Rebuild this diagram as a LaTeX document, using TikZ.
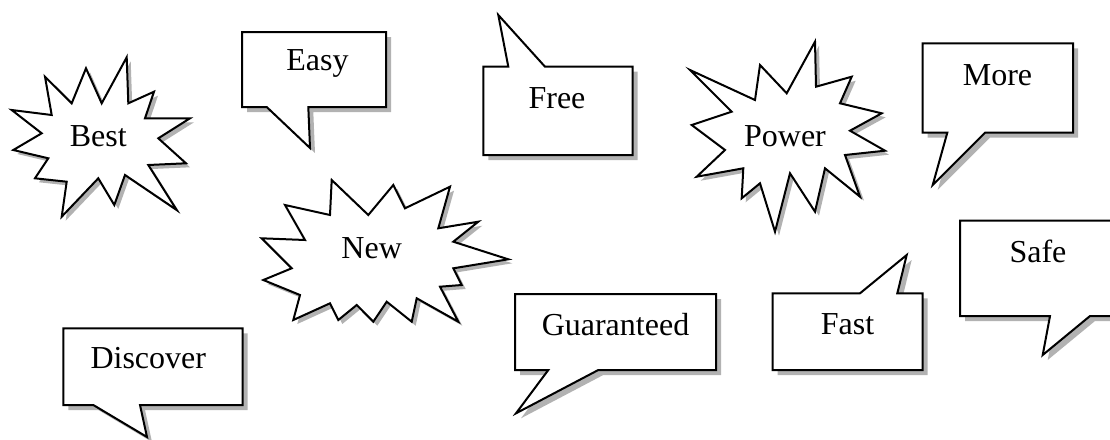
\documentclass[tikz,border=0pt]{standalone}
\usepackage{fontspec}
\setmainfont{Liberation Serif}
\usetikzlibrary{shadows}
\tikzstyle{burst} = [
    draw=black,
    line width=2pt,
    line join=miter,
    fill=white,
    drop shadow={shadow xshift=4pt, shadow yshift=-4pt, fill=black!30, opacity=1}
]
\tikzstyle{callout} = [
    draw=black,
    line width=2pt,
    line join=miter,
    fill=white,
    drop shadow={shadow xshift=5pt, shadow yshift=-5pt, fill=black!30, opacity=1}
]
\tikzstyle{word} = [
    anchor=base,
    inner sep=0pt,
    font=\fontsize{32}{38}\selectfont
]

\begin{document}
\begin{tikzpicture}[x=1pt, y=-1pt]

\useasboundingbox (0,0) rectangle (1110,439);

\draw [burst] (126.7,57.3) -- (128.3,103.3) -- (154,91.7) -- (145,118.3) -- (190,118.3)
    -- (158.3,138.3) -- (186,163.3) -- (148.3,165) -- (176.7,210) -- (125,175)
    -- (114.3,205) -- (98.3,178.3) -- (61.7,216.7) -- (66.7,181.7) -- (35,178.3)
    -- (48.3,158.3) -- (13.3,150) -- (41.7,133.3) -- (11.7,110) -- (51.7,115)
    -- (45,76.7) -- (71.7,103.3) -- (86,68.3) -- (101.7,103.3) -- cycle;

\draw [burst] (815,41.7) -- (816,86.7) -- (851.7,76.7) -- (840,103.3) -- (881.7,113.3)
    -- (850,130.7) -- (885,150.7) -- (845,155) -- (860,196.7) -- (825,168.3)
    -- (815,211.7) -- (790,173.3) -- (775,231.7) -- (760,183.3) -- (741.7,198.3)
    -- (743.3,168.3) -- (696.7,176.7) -- (725,150) -- (691.7,125) -- (731.7,111.7)
    -- (690,70) -- (755,100) -- (760,65) -- (786.7,93.3) -- cycle;

\draw [burst] (331.7,180) -- (368.3,215) -- (393.3,185) -- (405,208.3) -- (450,186.7)
    -- (438.3,228.3) -- (478.3,221.7) -- (453.3,241.7) -- (508.3,259.3) -- (453.3,268.3)
    -- (461.7,285) -- (440,286.7) -- (458.3,321.7) -- (416.7,298.3) -- (411.7,321.7)
    -- (386.7,301.7) -- (373.3,321.7) -- (356.7,305) -- (338.3,320) -- (330,303.3)
    -- (293.3,320) -- (300,295) -- (263.3,280) -- (291.7,268.3) -- (261.7,238.3)
    -- (305,240) -- (285,205) -- (330,215) -- cycle;

\draw [callout] (242,32) -- (386,32) -- (386,107) -- (308.3,107) -- (310,148)
    -- (266.7,107) -- (242,107) -- cycle;

\draw [callout] (483.3,155) -- (483.3,66.7) -- (508.3,66.7) -- (498.3,15) -- (545,66.7)
    -- (632.7,66.7) -- (632.7,155) -- cycle;

\draw [callout] (922.7,43.3) -- (1073,43.3) -- (1073,132.7) -- (985,132.7) -- (932.7,185)
    -- (947.3,132.7) -- (922.7,132.7) -- cycle;

\draw [callout] (63.3,328.3) -- (242.7,328.3) -- (242.7,405) -- (140,405) -- (147,437)
    -- (93.3,405) -- (63.3,405) -- cycle;

\draw [callout] (515,294) -- (716,294) -- (716,370) -- (598.3,370) -- (516,413.3)
    -- (548.3,370) -- (515,370) -- cycle;

\draw [callout] (772.7,370) -- (772.7,293.3) -- (860,293.3) -- (906.7,255) -- (897.3,293.3)
    -- (922.7,293.3) -- (922.7,370) -- cycle;

\draw [callout] (960,220.7) -- (1118,220.7) -- (1118,316) -- (1090,316) -- (1042.7,355)
    -- (1050,316) -- (960,316) -- cycle;

\node (best) [word] at (98.3,146.7) {Best};
\node (power) [word] at (785,146) {Power};
\node (new) [word] at (371.7,258.3) {New};
\node (easy) [word] at (317.5,70.7) {Easy};
\node (free) [word] at (557,108.3) {Free};
\node (more) [word] at (997.5,85) {More};
\node (discover) [word] at (148.3,368.3) {Discover};
\node (guaranteed) [word] at (615.5,335) {Guaranteed};
\node (fast) [word] at (847.5,334) {Fast};
\node (safe) [word] at (1038,262.7) {Safe};

\end{tikzpicture}
\end{document}
